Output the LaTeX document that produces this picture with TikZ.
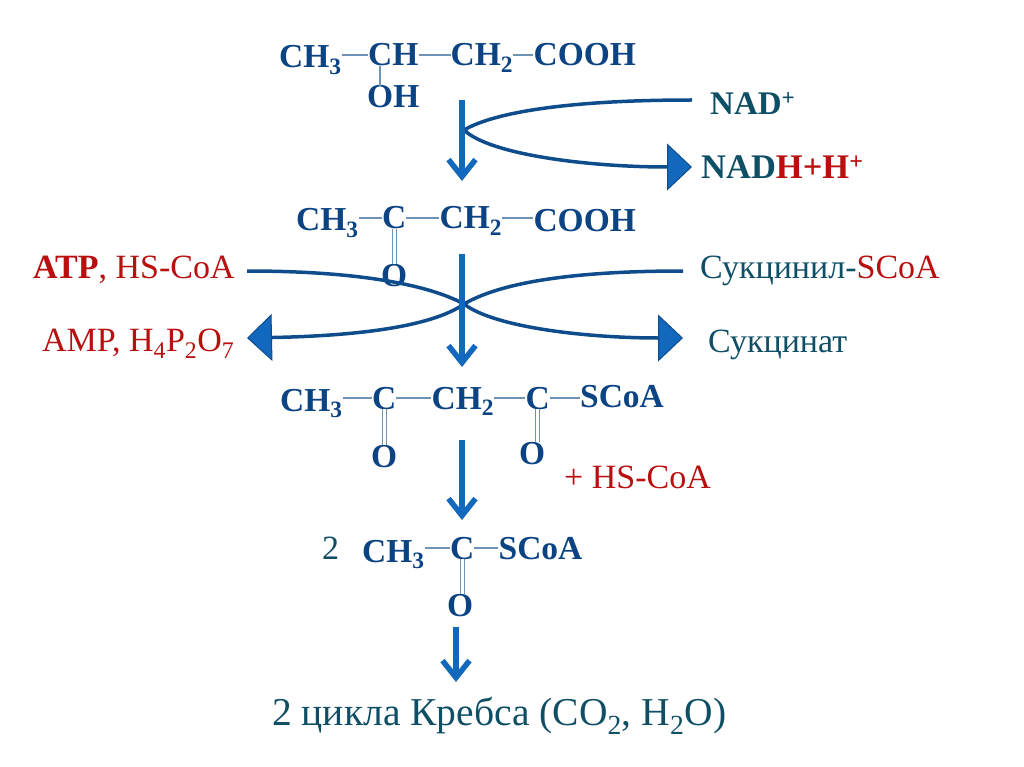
\documentclass[tikz,border=0pt]{standalone}
\usepackage{fontspec}
\setmainfont{Liberation Serif}
\usetikzlibrary{positioning,arrows.meta}
\definecolor{chemblue}{HTML}{0B4383}
\definecolor{bondblue}{HTML}{6F93B5}
\definecolor{tealtext}{HTML}{0F4F66}
\definecolor{redtext}{HTML}{B80F0F}
\definecolor{stepblue}{HTML}{1268BC}
\definecolor{sideblue}{HTML}{0E4C8C}
\tikzset{
  chem/.style={font=\fontsize{33.5}{36}\selectfont\bfseries,text=chemblue,inner sep=0pt,text height=22pt,text depth=0pt,anchor=west},
  side/.style={font=\fontsize{34}{36}\selectfont,text=tealtext,inner sep=0pt,text height=22pt,text depth=0pt,anchor=west},
  sidebold/.style={side,font=\fontsize{33}{36}\selectfont\bfseries},
  bond/.style={draw=bondblue,line width=1.2pt},
  dbond/.style={draw=bondblue,line width=1.1pt,double=white,double distance=3pt},
  stepline/.style={draw=stepblue,line width=5.5pt,-{Straight Barb[length=17pt,width=27pt,line width=5.5pt]}},
  branch/.style={draw=sideblue,line width=3.5pt,-{Triangle[length=25pt,width=47pt,fill=stepblue,color=sideblue,line width=1pt]}}
}
\begin{document}
\begin{tikzpicture}[x=1pt,y=-1pt]
  \useasboundingbox (0,0) rectangle (1024,767);
  % hydroxybutyrate
  \node[chem] at (279,57) (cha) {CH\textsubscript{3}};
  \node[chem,right=26pt of cha,yshift=2pt] (chb) {CH};
  \node[chem,right=32pt of chb] (chc) {CH\textsubscript{2}};
  \node[chem,right=20pt of chc] (chd) {COOH};
  \node[chem] at (367,97) (oha) {OH};
  \draw[bond] (chb.west -| cha.east) -- (chb.west);
  \draw[bond] (chb.east) -- (chc.west);
  \draw[bond] (chc.east) -- (chd.west);
  \draw[bond] (oha.north -| 380,0) -- (chb.south -| 380,0);
  % acetoacetate
  \node[chem] at (296,220) (kea) {CH\textsubscript{3}};
  \node[chem,right=23pt of kea,yshift=2pt] (keb) {C};
  \node[chem,right=33pt of keb] (kec) {CH\textsubscript{2}};
  \node[chem,right=31pt of kec,yshift=-3pt] (ked) {COOH};
  \node[chem] at (381,275) (keo) {O};
  \draw[bond] (keb.west -| kea.east) -- (keb.west);
  \draw[bond] (keb.east) -- (kec.west);
  \draw[bond] (kec.east) -- (kec.east -| ked.west);
  \draw[dbond] (keb.south) -- (keb.south |- keo.north);
  % acetoacetyl-CoA
  \node[chem] at (280,400) (aca) {CH\textsubscript{3}};
  \node[chem,right=29pt of aca,yshift=2pt] (acb) {C};
  \node[chem,right=35pt of acb] (acc) {CH\textsubscript{2}};
  \node[chem,right=31pt of acc] (acd) {C};
  \node[chem,right=30pt of acd,yshift=2pt] (ace) {SCoA};
  \node[chem] at (371,456) (aco) {O};
  \node[chem] at (519,453) (acp) {O};
  \draw[bond] (acb.west -| aca.east) -- (acb.west);
  \draw[bond] (acb.east) -- (acc.west);
  \draw[bond] (acc.east) -- (acd.west);
  \draw[bond] (acd.east) -- (acd.east -| ace.west);
  \draw[dbond] (acb.south) -- (acb.south |- aco.north);
  \draw[dbond] (acd.south) -- (acd.south |- acp.north);
  % acetyl-CoA
  \node[side] at (322,548) (two) {2};
  \node[chem] at (362,551) (ala) {CH\textsubscript{3}};
  \node[chem,right=25pt of ala,yshift=3pt] (alb) {C};
  \node[chem,right=24pt of alb] (alc) {SCoA};
  \node[chem] at (447,605) (alo) {O};
  \draw[bond] (alb.west -| ala.east) -- (alb.west);
  \draw[bond] (alb.east) -- (alc.west);
  \draw[dbond] (alb.south) -- (alb.south |- alo.north);
  % side labels
  \node[sidebold] at (710,104) (nad) {NAD\textsuperscript{+}};
  \node[sidebold,font=\fontsize{34.5}{36}\selectfont\bfseries] at (701,168) (nadh) {NAD\textcolor{redtext}{H+H\textsuperscript{+}}};
  \node[side,text=redtext] at (33,267) (atp) {\textbf{ATP}, HS-CoA};
  \node[side,text=redtext] at (42,340) (amp) {AMP, H\textsubscript{4}P\textsubscript{2}O\textsubscript{7}};
  \node[side] at (700,267) (suca) {Сукцинил-\textcolor{redtext}{SCoA}};
  \node[side] at (708,341) (sucb) {Сукцинат};
  \node[side,text=redtext] at (564,477) (hs) {+ HS-CoA};
  \node[side,font=\fontsize{39.5}{42}\selectfont] at (272,714) (krebs) {2 цикла Кребса (CO\textsubscript{2}, H\textsubscript{2}O)};
  % free ends
  \coordinate (nadin) at (692,100);
  \coordinate (nadout) at (692,167);
  \coordinate (atpin) at (247,271);
  \coordinate (ampout) at (247,338);
  \coordinate (sucin) at (683,271);
  \coordinate (sucout) at (683,338);
  \coordinate (stepa) at (462,100);
  \coordinate (stepb) at (462,181);
  \coordinate (stepc) at (462,254);
  \coordinate (stepd) at (462,367);
  \coordinate (stepe) at (462,440);
  \coordinate (stepf) at (462,520);
  \coordinate (stepg) at (456,627);
  \coordinate (steph) at (456,682);
  % side curves
  \draw[branch] (nadin) .. controls (570,100) and (495,112) .. (464,130) .. controls (490,155) and (590,167) .. (nadout);
  \draw[branch] (sucin) .. controls (570,271) and (500,283) .. (464,304) .. controls (495,328) and (590,338) .. (sucout);
  \draw[branch] (atpin) .. controls (350,271) and (425,283) .. (464,304) .. controls (430,328) and (350,336) .. (ampout);
  % main steps
  \draw[stepline] (stepa) -- (stepb);
  \draw[stepline] (stepc) -- (stepd);
  \draw[stepline] (stepe) -- (stepf);
  \draw[stepline] (stepg) -- (steph);
\end{tikzpicture}
\end{document}
